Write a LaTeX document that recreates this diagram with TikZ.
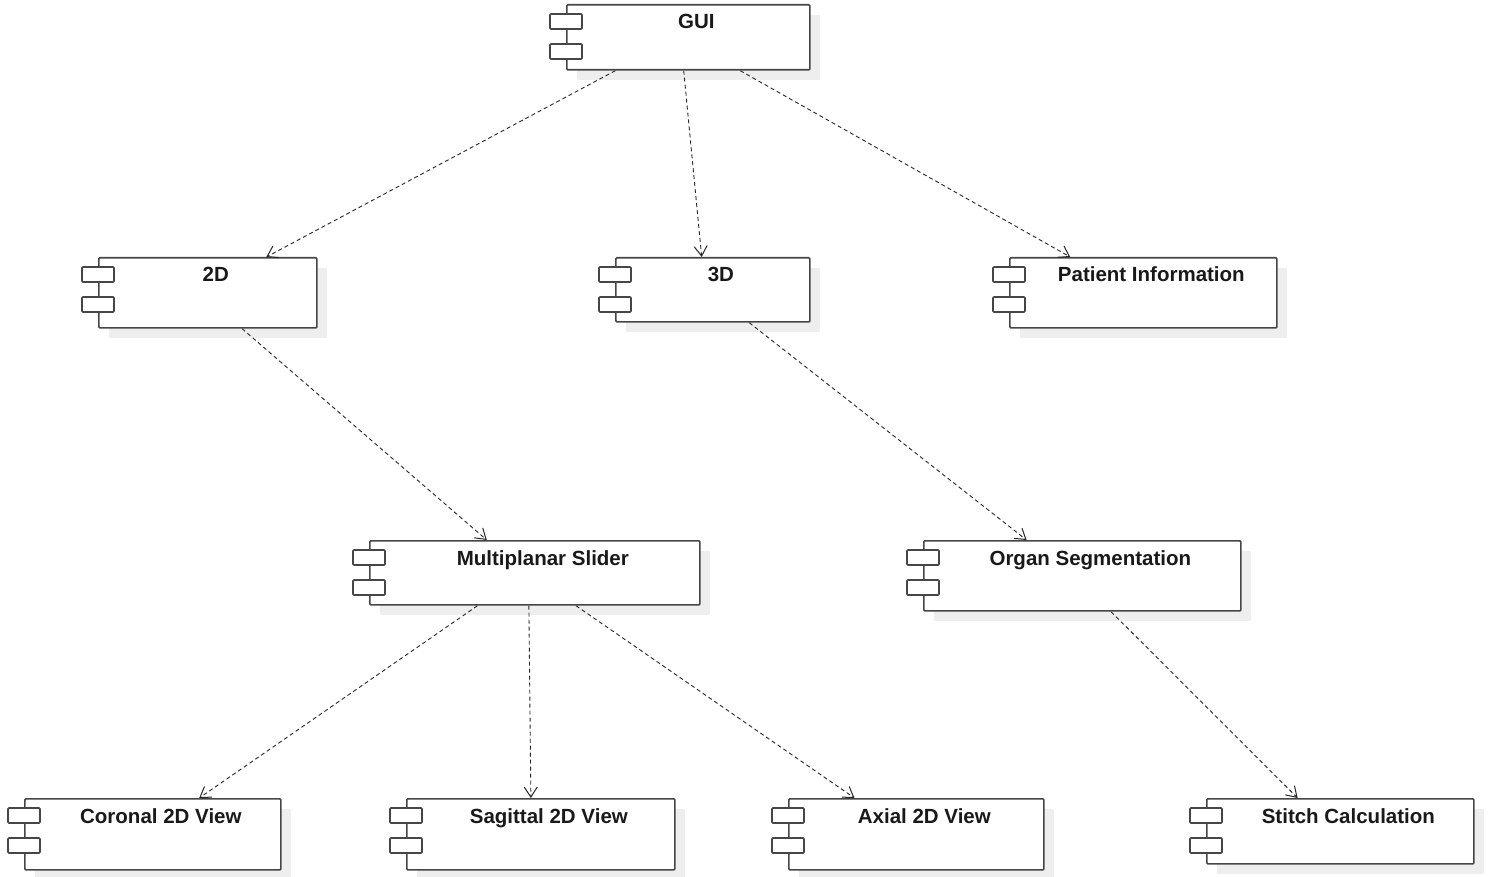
\documentclass[tikz,border=0pt]{standalone}
\usepackage{fontspec}
\setmainfont{Liberation Sans}
\usetikzlibrary{calc,arrows.meta,shadows}
\definecolor{boxline}{HTML}{464646}
\definecolor{shadowfill}{HTML}{EEEEEE}
\tikzset{
  comp/.style={draw=boxline, line width=1.7pt, fill=white, rounded corners=1pt, inner sep=0pt,
    drop shadow={shadow xshift=10pt, shadow yshift=-10pt, fill=shadowfill, opacity=1}},
  tab/.style={draw=boxline, line width=1.6pt, fill=white, rounded corners=1pt},
  lbl/.style={font=\fontsize{20.5}{23}\selectfont\bfseries, text=black!90, inner sep=0pt},
  dep/.style={draw=black!85, line width=0.9pt, dash pattern=on 4pt off 3pt,
    -{Straight Barb[length=10pt,width=13pt,line width=1pt]}}
}
\newcommand\umlcomp[6]{%
  \node[comp, minimum width=#4pt, minimum height=#5pt, anchor=north west] (#1) at (#2,#3) {};
  \draw[tab] ($(#1.north west)+(-16,10)$) rectangle ++(32,15);
  \draw[tab] ($(#1.north west)+(-16,40)$) rectangle ++(32,15);
  \node[lbl, anchor=base] (#1-t) at ($(#1.north)+(8,25)$) {#6};
}
\begin{document}
\begin{tikzpicture}[x=1pt,y=-1pt]
\useasboundingbox (0,0) rectangle (1493,877);
\umlcomp{gui}{566}{4}{243}{65}{GUI}
\umlcomp{dtwo}{98}{257}{218}{70}{2D}
\umlcomp{dthree}{615}{257}{194}{64}{3D}
\umlcomp{pat}{1009}{257}{267}{70}{Patient Information}
\umlcomp{mps}{369}{540}{330}{64}{Multiplanar Slider}
\umlcomp{org}{923}{540}{317}{70}{Organ Segmentation}
\umlcomp{cor}{24}{798}{256}{71}{Coronal 2D View}
\umlcomp{sag}{406}{798}{268}{71}{Sagittal 2D View}
\umlcomp{axi}{788}{798}{255}{71}{Axial 2D View}
\umlcomp{sti}{1206}{798}{267}{65}{Stitch Calculation}
% dependencies
\draw[dep] ($(gui.south west)!0.2016!(gui.south east)$) -- ($(dtwo.north west)!0.766!(dtwo.north east)$);
\draw[dep] ($(gui.south west)!0.481!(gui.south east)$) -- ($(dthree.north west)!0.443!(dthree.north east)$);
\draw[dep] ($(gui.south west)!0.712!(gui.south east)$) -- ($(pat.north west)!0.228!(pat.north east)$);
\draw[dep] ($(dtwo.south west)!0.656!(dtwo.south east)$) -- ($(mps.north west)!0.355!(mps.north east)$);
\draw[dep] ($(dthree.south west)!0.686!(dthree.south east)$) -- ($(org.north west)!0.325!(org.north east)$);
\draw[dep] ($(mps.south west)!0.327!(mps.south east)$) -- ($(cor.north west)!0.68!(cor.north east)$);
\draw[dep] ($(mps.south west)!0.482!(mps.south east)$) -- ($(sag.north west)!0.463!(sag.north east)$);
\draw[dep] ($(mps.south west)!0.624!(mps.south east)$) -- ($(axi.north west)!0.259!(axi.north east)$);
\draw[dep] ($(org.south west)!0.59!(org.south east)$) -- ($(sti.north west)!0.341!(sti.north east)$);
\end{tikzpicture}
\end{document}
